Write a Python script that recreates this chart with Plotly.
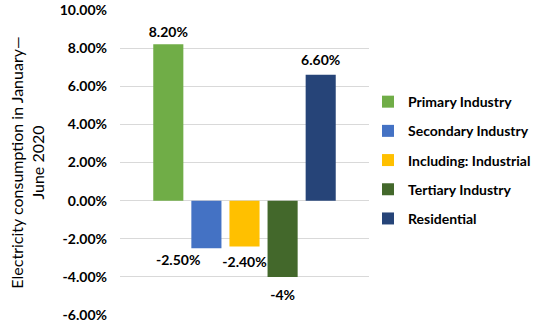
import plotly.graph_objects as go

categories = ["Primary Industry", "Secondary Industry", "Including: Industrial",
              "Tertiary Industry", "Residential"]
values = [8.2, -2.5, -2.4, -4.0, 6.6]
labels = ["8.20%", "-2.50%", "-2.40%", "-4%", "6.60%"]
colors = ["#70AD47", "#4472C4", "#FFC000", "#43682B", "#264478"]
tick_vals = [-6, -4, -2, 0, 2, 4, 6, 8, 10]
tick_text = ["-6.00%", "-4.00%", "-2.00%", "0.00%", "2.00%", "4.00%", "6.00%", "8.00%", "10.00%"]

FONT = "Lato, 'Open Sans', sans-serif"
# label placement styling (invisible marker size controls label distance from bar end)
label_pos = ["top center", "bottom left", "bottom center", "bottom center", "top center"]
label_gap = [5, 8, 14, 19, 8]

fig = go.Figure()
for i, (name, v, c) in enumerate(zip(categories, values, colors)):
    fig.add_trace(go.Bar(
        x=["g"], y=[v], name=name, marker=dict(color=c, line=dict(width=0)),
        offsetgroup=str(i), legendgroup=name, hoverinfo="skip",
    ))
for i, (name, v, lab, pos, gap) in enumerate(zip(categories, values, labels, label_pos, label_gap)):
    fig.add_trace(go.Scatter(
        x=["g"], y=[v], mode="markers+text", text=[lab], textposition=pos,
        marker=dict(size=gap, color="rgba(0,0,0,0)"),
        textfont=dict(family=FONT, size=14, color="#000000", weight="bold"),
        offsetgroup=str(i), showlegend=False, hoverinfo="skip", cliponaxis=False,
    ))

fig.update_layout(
    width=550, height=335,
    margin=dict(l=120, r=181, t=10, b=20),
    paper_bgcolor="white", plot_bgcolor="white",
    barmode="group", bargap=0.235, bargroupgap=0.21,
    scattermode="group", scattergap=0.235,
    font=dict(family=FONT, color="#000000"),
    showlegend=True,
    legend=dict(x=0.996, xanchor="left", y=0.508, yanchor="middle",
                font=dict(family=FONT, size=14, color="#000000", weight="bold"),
                tracegroupgap=8, itemclick=False, bgcolor="rgba(0,0,0,0)", borderwidth=0),
    xaxis=dict(showticklabels=False, showgrid=False, zeroline=False, showline=False, ticks=""),
    yaxis=dict(range=[-6, 10], tickvals=tick_vals, ticktext=tick_text, automargin="left",
               showgrid=True, gridcolor="#d9d9d9", gridwidth=1, zeroline=False, showline=False,
               ticks="", ticklen=0, ticklabelstandoff=12,
               tickfont=dict(family=FONT, size=14, color="#000000", weight="bold"),
               title=dict(text="Electricity consumption in January—<br>June 2020",
                          font=dict(family=FONT, size=16, color="#000000"), standoff=11)),
)

fig.write_html("out.html", config={"displayModeBar": False},
               post_script="document.body.style.margin='0';")
